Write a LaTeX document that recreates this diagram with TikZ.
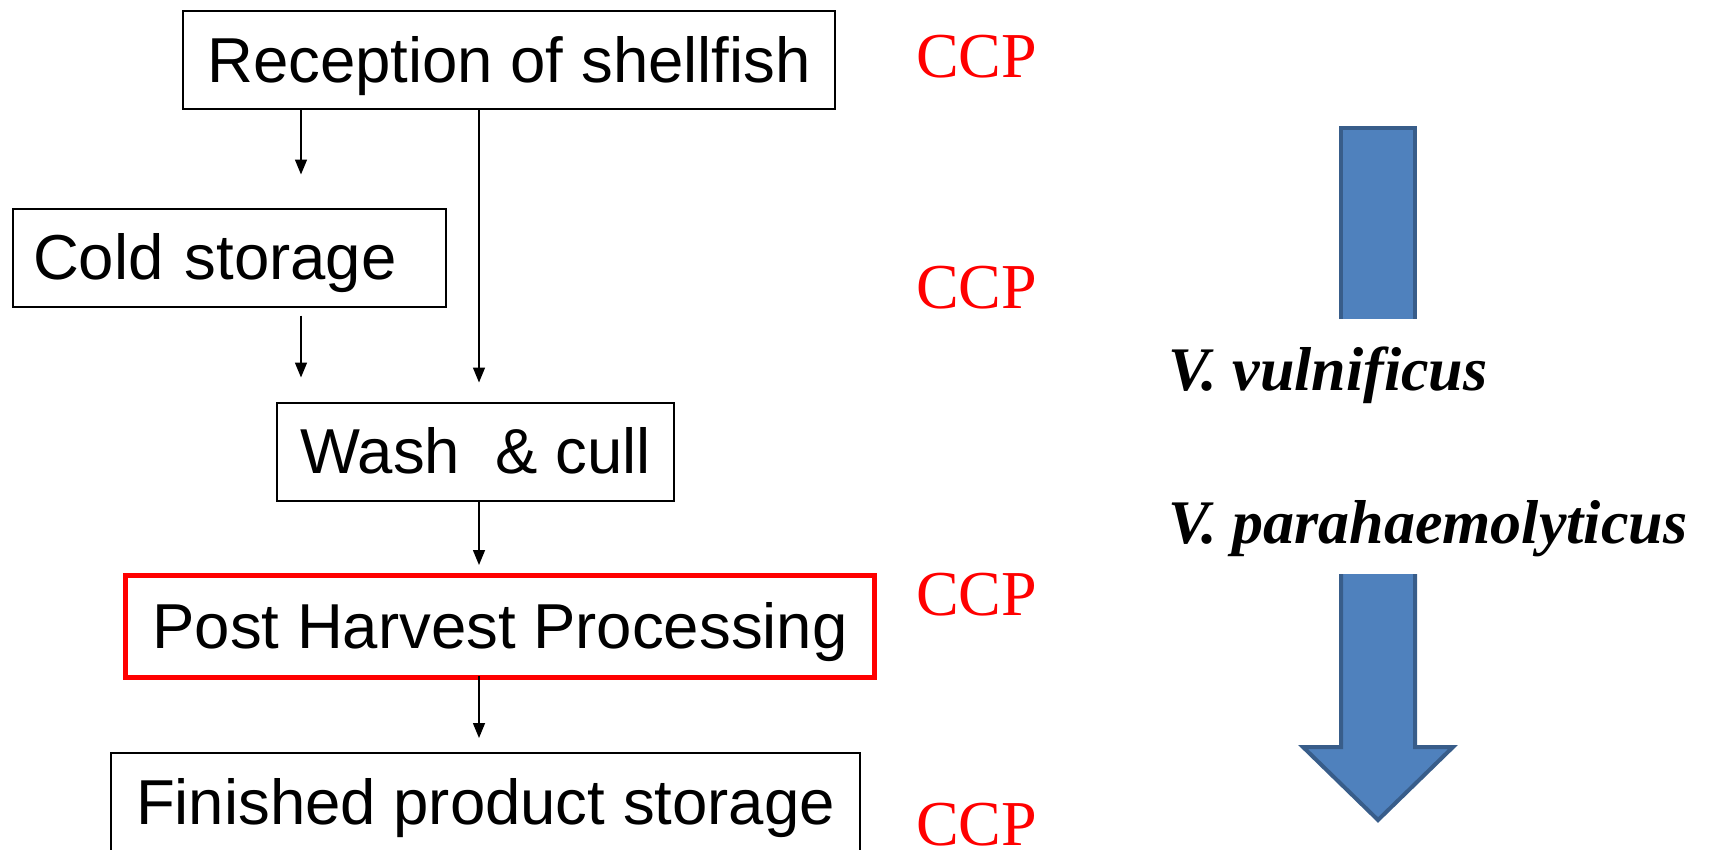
\documentclass[tikz,border=0pt]{standalone}
\usepackage{fontspec}
\setmainfont{Liberation Serif}
\setsansfont{Liberation Sans}
\usepackage{tikz}
\usetikzlibrary{arrows.meta}
\definecolor{cRed}{RGB}{255,0,0}
\definecolor{cBlue}{RGB}{79,129,189}
\definecolor{cBlueEdge}{RGB}{56,93,138}

\begin{document}
\begin{tikzpicture}[
    x=1pt, y=-1pt,
    stepbox/.style={rectangle,draw,line width=2pt,minimum height=98pt,inner sep=0pt,
      text height=50pt,text depth=6pt,font=\sffamily\fontsize{63.5}{70}\selectfont},
    ccp/.style={text=cRed,anchor=base,inner sep=0pt,font=\fontsize{64}{70}\selectfont},
    germ/.style={anchor=base west,inner sep=0pt,font=\bfseries\itshape\fontsize{62}{70}\selectfont},
    flow/.style={-{Triangle[length=15pt,width=12pt]},line width=1.5pt},
  ]
  \useasboundingbox (0,0) rectangle (1710,849);

  % process steps
  \node[stepbox,minimum width=652pt] (recep) at (509,60) {Reception of shellfish};
  \node[stepbox,text width=393pt,inner xsep=20pt,align=left] (cold) at (229.5,257.5) {Cold storage};
  \node[stepbox,minimum width=397pt] (wash) at (475.5,451.5) {Wash\ \ \& cull};
  \node[stepbox,draw=cRed,line width=5pt,minimum width=749pt,minimum height=102pt] (php) at (500,626.5) {Post Harvest Processing};
  \node[stepbox,minimum width=749pt] (fin) at (485.5,802) {Finished product storage};

  \coordinate (lane) at (301,0);
  \coordinate (main) at (479,0);
  \draw[flow,shorten >=33pt] (recep.south -| lane) -- (cold.north -| lane);
  \draw[flow,shorten >=19pt] (recep.south -| main) -- (wash.north -| main);
  \draw[flow,shorten <=8pt,shorten >=24pt] (cold.south -| lane) -- (wash.north -| lane);
  \draw[flow,shorten >=8pt] (wash.south -| main) -- (php.north -| main);
  \draw[flow,shorten <=-4pt,shorten >=14pt] (php.south -| main) -- (fin.north -| main);

  % critical control points
  \node[ccp] (ccp1) at (976.5,77) {CCP};
  \node[ccp] (ccp2) at (976.5,308) {CCP};
  \node[ccp] (ccp3) at (976.5,615) {CCP};
  \node[ccp] (ccp4) at (976.5,845) {CCP};

  % big arrow, broken by the labels
  \filldraw[fill=cBlue,draw=cBlueEdge,line width=4pt] (1341,319) -- (1341,128) -- (1415,128) -- (1415,319);
  \filldraw[fill=cBlue,draw=cBlueEdge,line width=4pt] (1341,574) -- (1341,747) -- (1303,747) -- (1378,820) -- (1453,747) -- (1415,747) -- (1415,574);
  \node[germ] (vv) at (1168,390) {V. vulnificus};
  \node[germ] (vp) at (1168,543) {V. parahaemolyticus};
\end{tikzpicture}
\end{document}
